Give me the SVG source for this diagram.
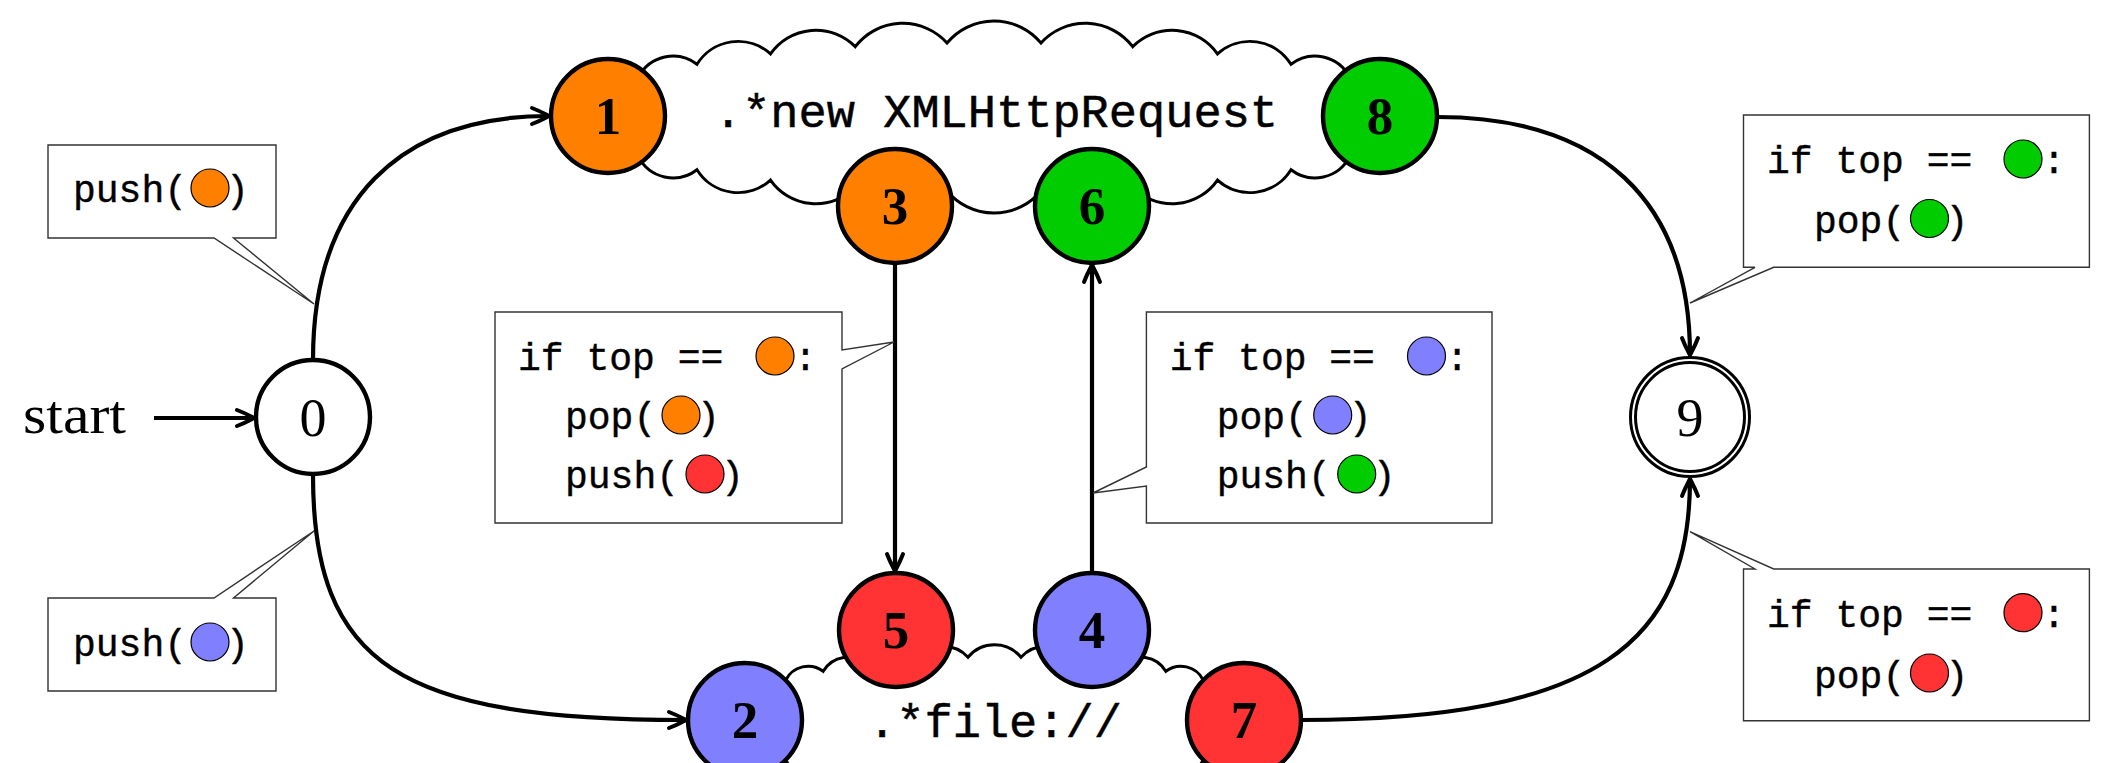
<svg xmlns="http://www.w3.org/2000/svg" width="2108" height="763" viewBox="0 0 2108 763">
<style>
.edge{fill:none;stroke:#000;stroke-width:4.2;marker-end:url(#arr)}
.nc{stroke:#000;stroke-width:4.4}
.lbl{font-family:"Liberation Serif",serif;font-weight:bold;font-size:53px;text-anchor:middle;fill:#000}
.lblr{font-family:"Liberation Serif",serif;font-size:54px;text-anchor:middle;fill:#000}
.mono{font-family:"Liberation Mono",monospace;font-size:38px;fill:#000;stroke:#000;stroke-width:0.4}
.big{font-family:"Liberation Mono",monospace;font-size:47px;text-anchor:middle;fill:#000;stroke:#000;stroke-width:0.5}
.mid{text-anchor:middle}
.cloud{fill:#fff;stroke:#000;stroke-width:3}
.bubble{fill:#fff;stroke:#333;stroke-width:1.4}
.dot{stroke:#000;stroke-width:1.2}
.or{fill:#FF8000}.gr{fill:#00CC00}.bl{fill:#8080FF}.rd{fill:#FF3333}.wh{fill:#fff}
</style>
<defs>
<marker id="arr" markerUnits="userSpaceOnUse" markerWidth="40" markerHeight="40" viewBox="-20 -20 40 40" refX="0" refY="0" orient="auto" overflow="visible">
<path d="M-17,-8 C-9,-5 -3,-1.5 0,0 C-3,1.5 -9,5 -17,8" fill="none" stroke="#000" stroke-width="4" stroke-linecap="round" stroke-linejoin="round"/>
</marker>
</defs>
<rect width="2108" height="763" fill="#fff"/>

<g id="cloud-top">
<path class="cloud" d="M1411.4,108.7 A17.2,17.2 0 0 0 1390.4,92.4 A28.3,28.3 0 0 0 1349.6,77.4 A39,39 0 0 0 1291,64.3 A48.3,48.3 0 0 0 1217.5,53.9 A55.3,55.3 0 0 0 1132.7,46.7 A59.7,59.7 0 0 0 1041,43 A61.1,61.1 0 0 0 947,43 A59.7,59.7 0 0 0 855.3,46.7 A55.3,55.3 0 0 0 770.5,53.9 A48.3,48.3 0 0 0 697,64.3 A39,39 0 0 0 638.4,77.4 A28.3,28.3 0 0 0 597.6,92.4 A17.2,17.2 0 0 0 576.6,108.7 A10.8,10.8 0 0 0 576.6,125.3 A17.2,17.2 0 0 0 597.6,141.6 A28.3,28.3 0 0 0 638.4,156.6 A39,39 0 0 0 697,169.7 A48.3,48.3 0 0 0 770.5,180.1 A55.3,55.3 0 0 0 855.3,187.3 A59.7,59.7 0 0 0 947,191 A61.1,61.1 0 0 0 1041,191 A59.7,59.7 0 0 0 1132.7,187.3 A55.3,55.3 0 0 0 1217.5,180.1 A48.3,48.3 0 0 0 1291,169.7 A39,39 0 0 0 1349.6,156.6 A28.3,28.3 0 0 0 1390.4,141.6 A17.2,17.2 0 0 0 1411.4,125.3 A10.8,10.8 0 0 0 1411.4,108.7 Z"/>
<text class="big" x="996" y="127">.*new XMLHttpRequest</text>
</g>

<g id="cloud-bottom">
<path class="cloud" d="M1263.2,713.8 A10.3,10.3 0 0 0 1252.9,701.7 A15.1,15.1 0 0 0 1232.6,690.3 A20.3,20.3 0 0 0 1203.2,680 A25,25 0 0 0 1165.8,671.3 A28.9,28.9 0 0 0 1121.8,664.4 A31.9,31.9 0 0 0 1072.9,659.7 A33.8,33.8 0 0 0 1021,657.3 A34.4,34.4 0 0 0 968,657.3 A33.8,33.8 0 0 0 916.1,659.7 A31.9,31.9 0 0 0 867.2,664.4 A28.9,28.9 0 0 0 823.2,671.3 A25,25 0 0 0 785.8,680 A20.3,20.3 0 0 0 756.4,690.3 A15.1,15.1 0 0 0 736.1,701.7 A10.3,10.3 0 0 0 725.8,713.8 A8.1,8.1 0 0 0 725.8,726.2 A10.3,10.3 0 0 0 736.1,738.3 A15.1,15.1 0 0 0 756.4,749.7 A20.3,20.3 0 0 0 785.8,760 A25,25 0 0 0 823.2,768.7 A28.9,28.9 0 0 0 867.2,775.6 A31.9,31.9 0 0 0 916.1,780.3 A33.8,33.8 0 0 0 968,782.7 A34.4,34.4 0 0 0 1021,782.7 A33.8,33.8 0 0 0 1072.9,780.3 A31.9,31.9 0 0 0 1121.8,775.6 A28.9,28.9 0 0 0 1165.8,768.7 A25,25 0 0 0 1203.2,760 A20.3,20.3 0 0 0 1232.6,749.7 A15.1,15.1 0 0 0 1252.9,738.3 A10.3,10.3 0 0 0 1263.2,726.2 A8.1,8.1 0 0 0 1263.2,713.8 Z"/>
<text class="big" x="995" y="737">.*file://</text>
</g>

<g id="connectors">
<path class="edge" d="M154,418 H254"/>
<path class="edge" d="M313,360 C313,200 400,116 549,116"/>
<path class="edge" d="M313,475 C313,665 400,720 686,720"/>
<path class="edge" d="M1437,117 C1600,117 1690,200 1690,355"/>
<path class="edge" d="M1301,720 C1600,720 1690,640 1690,479"/>
<path class="edge" d="M895,264 V571"/>
<path class="edge" d="M1092,573 V265"/>
</g>

<g id="start"><text class="lblr" x="23" y="433" style="text-anchor:start" textLength="103" lengthAdjust="spacingAndGlyphs" font-size="50">start</text></g>

<g id="node0"><circle class="nc wh" cx="313" cy="417" r="57"/><text class="lblr" x="313" y="436">0</text></g>
<g id="node9"><circle cx="1690" cy="417" r="57" fill="#fff" stroke="#000" stroke-width="8"/><circle cx="1690" cy="417" r="57" fill="none" stroke="#fff" stroke-width="2"/><text class="lblr" x="1690" y="436">9</text></g>
<g id="node1"><circle class="nc or" cx="608" cy="116" r="57"/><text class="lbl" x="608" y="134">1</text></g>
<g id="node8"><circle class="nc gr" cx="1380" cy="116" r="57"/><text class="lbl" x="1380" y="134">8</text></g>
<g id="node3"><circle class="nc or" cx="895" cy="206" r="57"/><text class="lbl" x="895" y="224">3</text></g>
<g id="node6"><circle class="nc gr" cx="1092" cy="206" r="57"/><text class="lbl" x="1092" y="224">6</text></g>
<g id="node5"><circle class="nc rd" cx="896" cy="630" r="57"/><text class="lbl" x="896" y="648">5</text></g>
<g id="node4"><circle class="nc bl" cx="1092" cy="630" r="57"/><text class="lbl" x="1092" y="648">4</text></g>
<g id="node2"><circle class="nc bl" cx="745" cy="720" r="57"/><text class="lbl" x="745" y="738">2</text></g>
<g id="node7"><circle class="nc rd" cx="1244" cy="720" r="57"/><text class="lbl" x="1244" y="738">7</text></g>

<g id="note-push-orange">
<path class="bubble" d="M48,145 H276 V238 H233.5 L314,304 L214,238 H48 Z"/>
<text class="mono" x="73" y="202">push(</text><circle class="dot or" cx="210" cy="188" r="19"/><text class="mono mid" x="237.5" y="202">)</text>
</g>

<g id="note-push-blue">
<path class="bubble" d="M48,598 H214 L314,531 L233.5,598 H276 V691 H48 Z"/>
<text class="mono" x="73" y="656">push(</text><circle class="dot bl" cx="210" cy="642" r="19"/><text class="mono mid" x="237.5" y="656">)</text>
</g>

<g id="note-3-5">
<path class="bubble" d="M495,312 H842 V350 L894,342 L842,369 V523 H495 Z"/>
<text class="mono" x="518" y="370">if top == </text><circle class="dot or" cx="775" cy="356" r="19"/><text class="mono mid" x="805.5" y="370">:</text>
<text class="mono" x="565" y="429">pop(</text><circle class="dot or" cx="681" cy="415" r="19"/><text class="mono mid" x="708.5" y="429">)</text>
<text class="mono" x="565" y="488">push(</text><circle class="dot rd" cx="705" cy="474" r="19"/><text class="mono mid" x="732.5" y="488">)</text>
</g>

<g id="note-4-6">
<path class="bubble" d="M1146.4,312 H1492 V523 H1146.4 V486 L1093,493 L1146.4,467 Z"/>
<text class="mono" x="1169.7" y="370">if top == </text><circle class="dot bl" cx="1426.5" cy="356" r="19"/><text class="mono mid" x="1457.2" y="370">:</text>
<text class="mono" x="1216.7" y="429">pop(</text><circle class="dot bl" cx="1332.7" cy="415" r="19"/><text class="mono mid" x="1360.2" y="429">)</text>
<text class="mono" x="1216.7" y="488">push(</text><circle class="dot gr" cx="1356.7" cy="474" r="19"/><text class="mono mid" x="1384.2" y="488">)</text>
</g>

<g id="note-8-9">
<path class="bubble" d="M1743.5,115 H2089.4 V267.3 H1773.7 L1690,303 L1755,267.3 H1743.5 Z"/>
<text class="mono" x="1767" y="172.7">if top == </text><circle class="dot gr" cx="2023" cy="159" r="19"/><text class="mono mid" x="2053.8" y="172.7">:</text>
<text class="mono" x="1814" y="233">pop(</text><circle class="dot gr" cx="1929.5" cy="218.5" r="19"/><text class="mono mid" x="1957" y="233">)</text>
</g>

<g id="note-7-9">
<path class="bubble" d="M1743.5,569 H1755 L1690,531.7 L1773.7,569 H2089.4 V720.7 H1743.5 Z"/>
<text class="mono" x="1767" y="626.7">if top == </text><circle class="dot rd" cx="2023" cy="612.7" r="19"/><text class="mono mid" x="2053.8" y="626.7">:</text>
<text class="mono" x="1814" y="688">pop(</text><circle class="dot rd" cx="1929.5" cy="673" r="19"/><text class="mono mid" x="1957" y="688">)</text>
</g>
</svg>
